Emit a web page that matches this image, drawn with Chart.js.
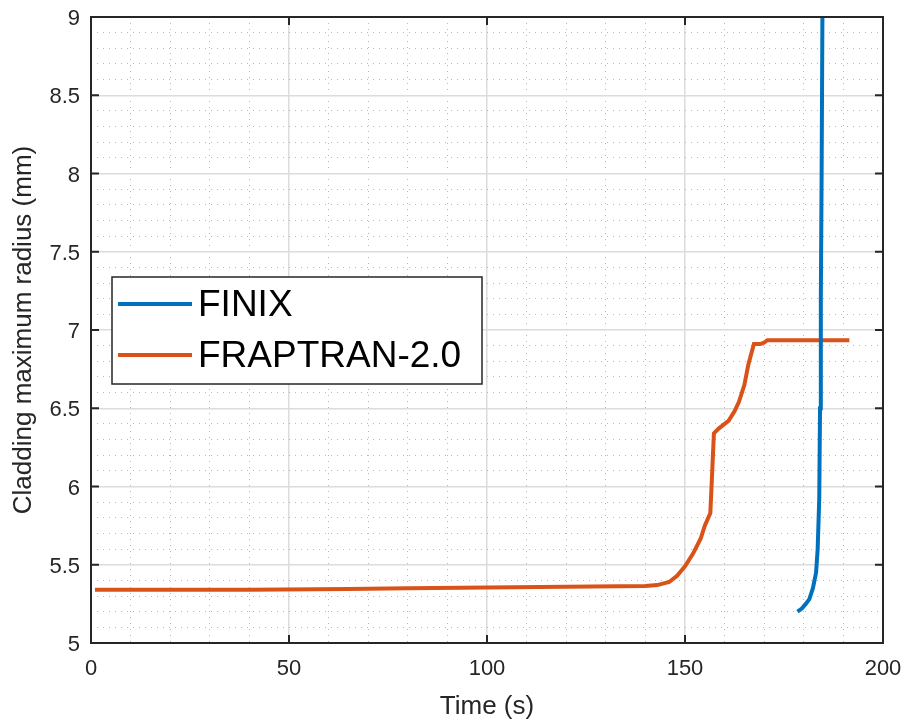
<!DOCTYPE html>
<html>
<head>
<meta charset="utf-8">
<script src="https://cdn.jsdelivr.net/npm/chart.js@4/dist/chart.umd.min.js"></script>
<style>
  html, body { margin: 0; padding: 0; background: #fff; }
  #wrap { width: 904px; height: 722px; }
</style>
</head>
<body>
<div id="wrap"><canvas id="radiusChart" width="904" height="722"></canvas></div>
<script>
// values
const finixTime = [178.4, 179.5, 180.5, 181.4, 182.3, 183.1, 183.5, 183.9, 184.1, 184.3, 184.5, 184.7];
const finixRadius = [5.20, 5.22, 5.25, 5.28, 5.35, 5.45, 5.60, 5.92, 6.50, 7.20, 8.00, 9.00];

const fraptranTime = [1, 20, 40, 65, 80, 100, 120, 140, 143, 146, 148, 150, 152, 154, 155, 156.4, 157.3, 158.5, 160, 161, 162.5, 163.6, 165, 166, 167.4, 169, 170, 170.8, 191.5];
const fraptranRadius = [5.34, 5.34, 5.34, 5.345, 5.35, 5.355, 5.36, 5.365, 5.37, 5.39, 5.43, 5.49, 5.57, 5.67, 5.75, 5.83, 6.34, 6.37, 6.40, 6.42, 6.48, 6.54, 6.65, 6.78, 6.91, 6.91, 6.92, 6.935, 6.935];

const xTicks = [0, 50, 100, 150, 200];
const yTicks = [5, 5.5, 6, 6.5, 7, 7.5, 8, 8.5, 9];

const toPoints = (xs, ys) => xs.map((x, i) => ({ x: x, y: ys[i] }));

const axisColor = '#262626';
const font = 'Liberation Sans, Arial, sans-serif';

// box, inward ticks and legend in MATLAB style
const matlabBox = {
  id: 'matlabBox',
  afterDatasetsDraw(chart) {
    const ctx = chart.ctx;
    const a = chart.chartArea;
    const xs = chart.scales.x, ys = chart.scales.y;
    ctx.save();
    ctx.strokeStyle = axisColor;
    ctx.lineWidth = 2;
    ctx.strokeRect(a.left, a.top, a.right - a.left, a.bottom - a.top);
    ctx.beginPath();
    xTicks.forEach(v => {
      const px = xs.getPixelForValue(v);
      ctx.moveTo(px, a.bottom); ctx.lineTo(px, a.bottom - 8);
      ctx.moveTo(px, a.top); ctx.lineTo(px, a.top + 8);
    });
    yTicks.forEach(v => {
      const py = ys.getPixelForValue(v);
      ctx.moveTo(a.left, py); ctx.lineTo(a.left + 8, py);
      ctx.moveTo(a.right, py); ctx.lineTo(a.right - 8, py);
    });
    ctx.stroke();

    // legend
    const lx = 112, ly = 277, lw = 370, lh = 107;
    ctx.fillStyle = '#fff';
    ctx.fillRect(lx, ly, lw, lh);
    ctx.lineWidth = 1.5;
    ctx.strokeStyle = axisColor;
    ctx.strokeRect(lx, ly, lw, lh);
    ctx.font = '37px ' + font;
    ctx.textBaseline = 'middle';
    chart.data.datasets.forEach((ds, i) => {
      const yy = ly + 27 + i * 51;
      ctx.strokeStyle = ds.borderColor;
      ctx.lineWidth = 4;
      ctx.beginPath();
      ctx.moveTo(lx + 6, yy); ctx.lineTo(lx + 80, yy);
      ctx.stroke();
      ctx.fillStyle = '#000';
      ctx.fillText(ds.label, lx + 86, yy + 2);
    });
    ctx.restore();
  }
};

const ctx = document.getElementById('radiusChart').getContext('2d');
new Chart(ctx, {
  type: 'line',
  data: {
    datasets: [{
      label: 'FINIX',
      data: toPoints(finixTime, finixRadius),
      borderColor: '#0072BD',
      borderWidth: 4,
      pointRadius: 0,
      tension: 0
    }, {
      label: 'FRAPTRAN-2.0',
      data: toPoints(fraptranTime, fraptranRadius),
      borderColor: '#D95319',
      borderWidth: 4,
      pointRadius: 0,
      tension: 0
    }]
  },
  options: {
    responsive: false,
    animation: false,
    layout: { padding: { top: 17, right: 21, left: 0, bottom: 0 } },
    plugins: { legend: { display: false }, tooltip: { enabled: false } },
    scales: {
      x: {
        type: 'linear',
        min: 0, max: 200,
        afterBuildTicks: s => { s.ticks = []; for (let v = 0; v <= 200; v += 10) s.ticks.push({ value: v }); },
        afterFit: s => { s.height = 79; s.paddingLeft = 0; s.paddingRight = 0; },
        ticks: {
          autoSkip: false,
          maxRotation: 0,
          color: axisColor,
          font: { family: font, size: 22 },
          padding: 13,
          callback: v => (v % 50 === 0 ? String(v) : '')
        },
        grid: {
          drawTicks: false,
          color: c => (c.tick && c.tick.value % 50 === 0 ? '#dcdcdc' : '#b8b8b8'),
          lineWidth: c => (c.tick && c.tick.value % 50 === 0 ? 1.5 : 1)
        },
        border: {
          display: false,
          dash: c => (c.tick && c.tick.value % 50 === 0 ? [] : [1, 5])
        },
        title: {
          display: true,
          text: 'Time (s)',
          color: axisColor,
          font: { family: font, size: 26 },
          padding: { top: 1.5, bottom: 0 }
        }
      },
      y: {
        type: 'linear',
        min: 5, max: 9,
        afterBuildTicks: s => { s.ticks = []; for (let k = 0; k <= 40; k++) s.ticks.push({ value: +(5 + k * 0.1).toFixed(1) }); },
        afterFit: s => { s.width = 91; s.paddingTop = 0; s.paddingBottom = 0; },
        ticks: {
          autoSkip: false,
          color: axisColor,
          font: { family: font, size: 22 },
          padding: 11,
          labelOffset: 2,
          callback: v => (Math.round(v * 10) % 5 === 0 ? String(+v.toFixed(1)) : '')
        },
        grid: {
          drawTicks: false,
          color: c => (c.tick && Math.round(c.tick.value * 10) % 5 === 0 ? '#dcdcdc' : '#b8b8b8'),
          lineWidth: c => (c.tick && Math.round(c.tick.value * 10) % 5 === 0 ? 1.5 : 1)
        },
        border: {
          display: false,
          dash: c => (c.tick && Math.round(c.tick.value * 10) % 5 === 0 ? [] : [1, 5])
        },
        title: {
          display: true,
          text: 'Cladding maximum radius (mm)',
          color: axisColor,
          font: { family: font, size: 26 },
          padding: { top: 8, bottom: 0 }
        }
      }
    }
  },
  plugins: [matlabBox]
});
</script>
</body>
</html>
